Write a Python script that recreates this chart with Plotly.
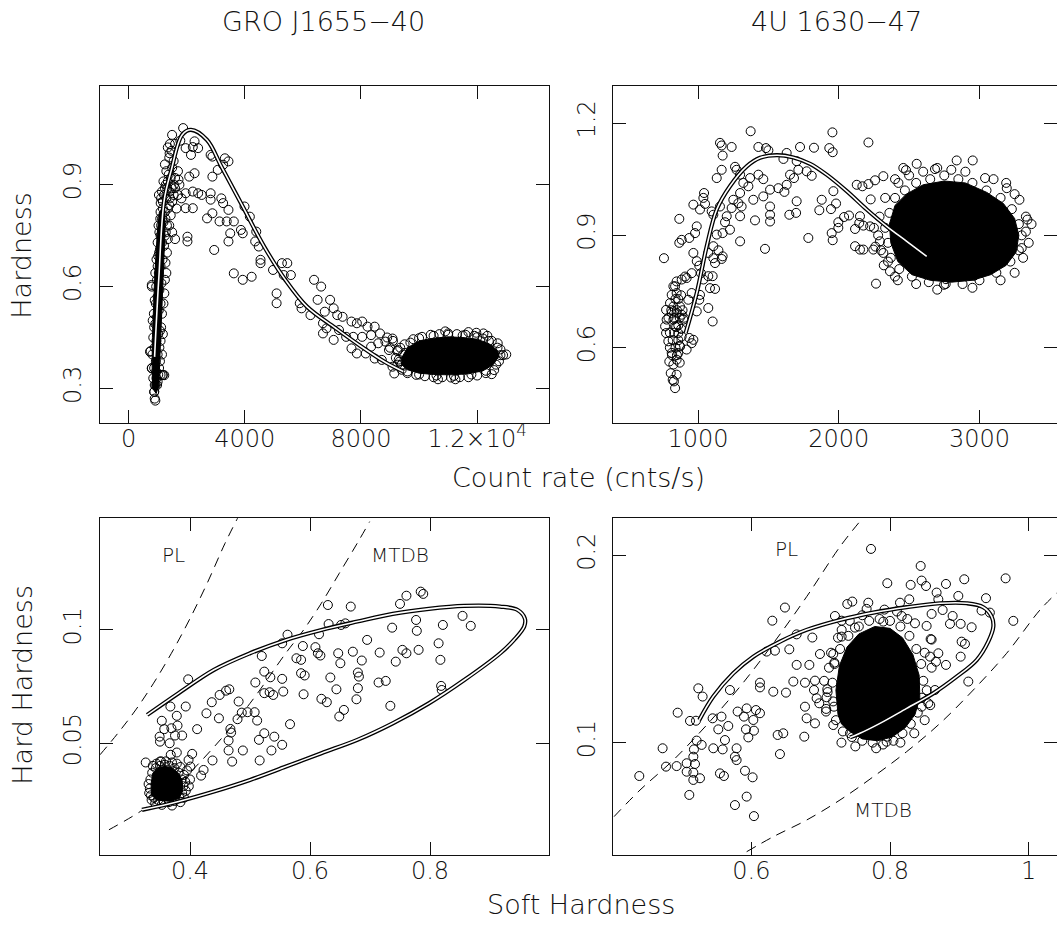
import plotly.graph_objects as go

W, H = 1057, 937
FONT = "DejaVu Sans"
INK = "#111111"

# ---------------- GRO J1655-40 : count rate vs hardness ----------------
gro_cr_points = [
    (900, 0.27), (880, 0.29), (930, 0.31), (1000, 0.32), (1100, 0.34), (1180, 0.34), (850, 0.33), (950, 0.35), (1050, 0.36),
    (800, 0.36), (760, 0.41), (820, 0.40), (850, 0.45), (1080, 0.38), (1150, 0.40), (1100, 0.44), (880, 0.48), (1120, 0.48),
    (830, 0.50), (1180, 0.46), (870, 0.52), (1150, 0.52), (900, 0.56), (1200, 0.55), (800, 0.60), (1230, 0.58), (950, 0.60),
    (1250, 0.62), (920, 0.64), (1300, 0.64), (1000, 0.66), (1270, 0.67), (960, 0.68), (1050, 0.70), (1320, 0.70), (1000, 0.73),
    (1350, 0.74), (1100, 0.75), (1280, 0.76), (1030, 0.78), (1400, 0.78), (1500, 0.76), (1150, 0.80), (1600, 0.74),
    (1100, 0.82), (1250, 0.82), (1350, 0.83), (1450, 0.81), (1180, 0.85), (1300, 0.86), (1500, 0.85), (1150, 0.88),
    (1250, 0.89), (1400, 0.88), (1550, 0.87), (1200, 0.91), (1350, 0.91), (1450, 0.92), (1600, 0.89), (1700, 0.87),
    (1300, 0.94), (1500, 0.95), (1250, 0.96), (1400, 0.98), (1480, 1.00), (1600, 0.92), (1750, 0.90), (1650, 0.83), (1820, 0.86),
    (900, 0.31), (960, 0.33), (1020, 0.34), (880, 0.36), (940, 0.38), (1000, 0.40), (1060, 0.42), (900, 0.42), (960, 0.44),
    (1020, 0.46), (1080, 0.47), (920, 0.49), (980, 0.51), (1040, 0.53), (1100, 0.55), (940, 0.55), (1000, 0.57), (1060, 0.59),
    (1130, 0.61), (980, 0.62), (1040, 0.64), (1100, 0.66), (1170, 0.68), (1020, 0.69), (1080, 0.71), (1150, 0.73),
    (1220, 0.72), (1060, 0.76), (1120, 0.78), (1200, 0.79), (1250, 0.75), (1090, 0.80), (1180, 0.83), (1270, 0.80),
    (1320, 0.78), (1400, 0.84), (1220, 0.87), (1330, 0.89), (1420, 0.86), (1480, 0.89), (1560, 0.90), (1280, 0.90),
    (1380, 0.93), (1120, 0.86), (1700, 0.94), (1550, 0.97), (1350, 1.01), (1420, 1.02), (1600, 1.02), (1780, 1.03),
    (737, 0.408), (798, 0.359), (921, 0.264), (884, 0.290), (982, 0.310), (798, 0.605), (1166, 0.339), (1228, 0.339),
    (1044, 0.870), (1105, 0.846),
    (1878, 1.067), (1498, 1.047), (1964, 1.008), (2210, 1.011), (2394, 1.008), (2271, 1.028), (2148, 0.988), (1412, 0.993),
    (2824, 0.988), (2885, 0.983), (3315, 0.978), (3438, 0.969), (3254, 0.959), (3070, 0.944), (2885, 0.924), (2271, 0.934),
    (2087, 0.924), (1719, 0.915), (2210, 0.880), (2394, 0.875), (1964, 0.875), (2517, 0.870), (2824, 0.875), (2824, 0.856),
    (3192, 0.860), (3254, 0.846), (3438, 0.826), (3990, 0.836), (4174, 0.806), (2210, 0.831), (1964, 0.831), (2885, 0.816),
    (2701, 0.801), (3131, 0.792), (3377, 0.792), (3622, 0.792), (3868, 0.767), (3929, 0.757), (3499, 0.757), (3438, 0.733),
    (4395, 0.762), (4358, 0.733), (4481, 0.718), (2026, 0.747), (2026, 0.733), (2947, 0.708), (4542, 0.679), (4542, 0.669),
    (5279, 0.669), (5463, 0.669), (5586, 0.634), (4972, 0.649), (5340, 0.634), (3622, 0.639), (3929, 0.620), (4236, 0.629),
    (5095, 0.580), (5095, 0.551), (5893, 0.551), (5954, 0.536), (6261, 0.516), (6384, 0.620), (6629, 0.600), (6507, 0.561),
    (6936, 0.561), (6752, 0.526), (7059, 0.536), (7182, 0.516), (7366, 0.511), (6691, 0.492), (6813, 0.477), (7243, 0.472),
    (7673, 0.497), (7857, 0.492), (8041, 0.497), (8225, 0.482), (8471, 0.482), (6691, 0.462), (7059, 0.443), (7489, 0.452),
    (7734, 0.452), (8041, 0.452), (8348, 0.457), (8655, 0.462), (7673, 0.418), (7857, 0.403), (8164, 0.403), (8348, 0.423),
    (8594, 0.433), (8839, 0.438), (9085, 0.447), (8962, 0.413), (8471, 0.388), (8716, 0.384), (9085, 0.364), (9146, 0.344),
    (9330, 0.379), (9269, 0.413),
    (9500, 0.43), (9800, 0.445), (10100, 0.452), (10400, 0.458), (10700, 0.46), (11000, 0.462), (11300, 0.46), (11600, 0.458),
    (11900, 0.455), (12200, 0.447), (12500, 0.44), (10900, 0.468), (11700, 0.466), (12350, 0.455), (12891, 0.398),
    (12584, 0.354), (12707, 0.433), (12215, 0.462), (11970, 0.464), (12800, 0.415), (12750, 0.38), (12300, 0.345),
    (12000, 0.338), (11700, 0.333), (11400, 0.333), (11100, 0.332), (10800, 0.333), (10500, 0.333), (10200, 0.336),
    (9900, 0.34), (9600, 0.345), (9400, 0.355), (9250, 0.37), (9200, 0.39), (9250, 0.41), (9350, 0.42), (9100, 0.44),
    (8900, 0.45), (9000, 0.42), (13000, 0.40), (12500, 0.342), (11250, 0.327), (10650, 0.327),
    (9450, 0.40), (9700, 0.435), (10000, 0.448), (10500, 0.455), (11000, 0.458), (11500, 0.456), (12000, 0.451),
    (12400, 0.44), (12700, 0.42), (12800, 0.398), (12650, 0.37), (12300, 0.352), (11800, 0.341), (11200, 0.337),
    (10600, 0.338), (10000, 0.341), (9600, 0.35), (9400, 0.37), (9300, 0.385),
]
gro_band_core = [(830, 0.30), (810, 0.37), (820, 0.45), (850, 0.53), (890, 0.61), (940, 0.69), (990, 0.76), (1060, 0.82),
                 (1230, 0.83), (1250, 0.76), (1220, 0.68), (1180, 0.60), (1140, 0.52), (1100, 0.44), (1070, 0.37),
                 (1040, 0.31), (950, 0.285)]
gro_blob_core = [(9400, 0.39), (9600, 0.42), (10000, 0.44), (10500, 0.448), (11000, 0.452), (11500, 0.45), (12000, 0.445),
                 (12400, 0.432), (12700, 0.412), (12750, 0.395), (12550, 0.37), (12200, 0.352), (11700, 0.343),
                 (11100, 0.34), (10500, 0.341), (10000, 0.345), (9600, 0.355), (9400, 0.37)]
gro_fit_rate = [895, 1043, 1227, 1473, 1842, 2148, 2701, 3192, 3929, 4666, 5402, 6139, 7121, 7982, 8840, 9454]
gro_fit_hard = [0.393, 0.629, 0.855, 0.944, 1.047, 1.062, 1.032, 0.954, 0.836, 0.718, 0.619, 0.541, 0.478, 0.425, 0.377, 0.350]

# ---------------- 4U 1630-47 : count rate vs hardness ----------------
u16_cr_points = [
    (1374, 1.178), (1156, 1.147), (1168, 1.140), (1239, 1.136), (1175, 1.113), (1168, 1.075), (1133, 1.053), (1263, 1.083),
    (1274, 1.075), (1429, 1.136), (1483, 1.133), (1500, 1.127), (1630, 1.120), (1607, 1.104), (1725, 1.136), (1824, 1.134),
    (1933, 1.133), (1955, 1.175), (1957, 1.122), (2211, 1.148), (1701, 1.098), (1713, 1.075), (1772, 1.071), (1808, 1.059),
    (1654, 1.062), (1682, 1.053), (1630, 1.035), (1571, 1.026), (1512, 1.022), (1464, 1.050), (1429, 1.062), (1370, 1.053),
    (1322, 1.040), (1299, 1.062), (1358, 1.031), (1393, 0.995), (1464, 1.004), (1512, 0.977), (1512, 0.955), (1512, 0.937),
    (1405, 0.940), (1299, 0.951), (1299, 0.884), (1476, 0.864), (1614, 1.016), (1701, 0.991), (1649, 0.955), (1697, 0.960),
    (1784, 0.893), (1879, 0.995), (1862, 0.967), (1945, 0.970), (1962, 1.018), (1981, 0.985), (1950, 0.906), (1957, 0.887),
    (1997, 0.935), (1997, 0.920), (2038, 0.949), (2073, 0.953), (2128, 1.035), (2168, 1.031), (2211, 1.037), (2258, 1.047),
    (2317, 1.058), (2227, 0.996), (2151, 0.951), (2146, 0.933), (2116, 0.917), (2175, 0.926), (2223, 0.924), (2116, 0.871),
    (2151, 0.862), (2175, 0.862), (2246, 0.862), (2265, 0.771), (2293, 0.884), (2317, 0.853), (2364, 0.804), (2459, 1.080),
    (2478, 1.074), (2554, 1.091), (2684, 1.077), (2838, 1.100), (2952, 1.100), (2748, 0.768), (2762, 0.783), (2962, 0.792),
    (3075, 0.817), (3300, 0.866), (3341, 0.942), (3284, 0.995), (3194, 1.026), (3040, 1.053), (2424, 1.040),
    (967, 0.982), (1043, 1.013), (1038, 1.000), (1050, 0.984), (1014, 0.969), (991, 0.924), (979, 0.906), (938, 0.893),
    (867, 0.944), (867, 0.880), (884, 0.888), (967, 0.853), (991, 0.831), (955, 0.799), (919, 0.786), (1009, 0.819),
    (1021, 0.799), (1038, 0.782), (1073, 0.791), (1085, 0.759), (1121, 0.757), (1104, 0.791), (1121, 0.826), (1109, 0.839),
    (1109, 0.871), (1073, 0.853), (1168, 0.837), (1175, 0.844), (1145, 0.860), (1133, 0.902), (1109, 0.955), (1097, 0.964),
    (1156, 0.977), (1204, 0.951), (1227, 0.915), (1192, 0.935), (1175, 0.906), (1251, 0.995), (1239, 0.973), (1299, 1.013),
    (1287, 0.986), (1310, 0.977), (1073, 0.706), (1104, 0.670), (1009, 0.728), (991, 0.697), (1014, 0.741), (955, 0.746),
    (931, 0.728), (967, 0.621), (955, 0.612), (938, 0.626), (919, 0.595), (896, 0.675), (884, 0.688), (872, 0.710),
    (848, 0.746), (801, 0.719), (773, 0.701), (766, 0.657), (773, 0.639), (789, 0.617), (813, 0.586), (796, 0.563),
    (825, 0.555), (848, 0.568), (860, 0.586), (872, 0.603), (884, 0.630), (837, 0.657), (825, 0.675), (813, 0.693),
    (848, 0.693), (860, 0.639), (825, 0.764), (837, 0.764), (848, 0.777), (884, 0.782), (908, 0.790), (813, 0.741),
    (777, 0.675), (806, 0.532), (837, 0.492), (829, 0.510), (848, 0.528), (820, 0.514), (758, 0.839),
    (800, 0.60), (820, 0.62), (840, 0.60), (860, 0.62), (880, 0.65), (830, 0.68), (850, 0.70), (870, 0.68), (890, 0.70),
    (810, 0.70), (790, 0.68), (860, 0.73), (840, 0.73), (815, 0.58), (850, 0.58), (870, 0.56), (830, 0.64), (800, 0.64),
    (900, 0.68), (880, 0.74), (860, 0.66), (845, 0.655), (825, 0.71), (870, 0.605),
    (2350, 0.88), (2330, 0.92), (2360, 0.96), (2400, 1.00), (2470, 1.02), (2550, 1.04), (2650, 1.05), (2750, 1.06),
    (2850, 1.05), (2950, 1.04), (3050, 1.02), (3150, 1.00), (3230, 0.97), (3280, 0.93), (3300, 0.90), (3280, 0.86),
    (3220, 0.83), (3120, 0.80), (3000, 0.78), (2880, 0.77), (2760, 0.77), (2640, 0.775), (2520, 0.79), (2430, 0.81),
    (2370, 0.84), (2300, 0.86), (2320, 0.82), (2420, 0.78), (3330, 0.95), (3350, 0.88), (3190, 1.04), (2500, 1.06),
    (2700, 1.08), (2900, 1.07),
    (2280, 0.90), (2290, 0.95), (2330, 1.00), (2260, 0.87), (2250, 0.92), (2400, 1.05), (2600, 1.07), (2800, 1.075),
    (3100, 1.05), (3250, 1.01), (3330, 0.91), (3370, 0.93), (3310, 0.84), (3250, 0.80), (3150, 0.78), (2950, 0.76),
    (2700, 0.755), (2550, 0.77), (2400, 0.79), (2350, 0.83),
]
u16_blob_core = [(2370, 0.88), (2360, 0.93), (2400, 0.98), (2480, 1.01), (2600, 1.035), (2750, 1.045), (2900, 1.04),
                 (3050, 1.015), (3170, 0.985), (3250, 0.945), (3280, 0.90), (3260, 0.855), (3190, 0.82), (3080, 0.795),
                 (2950, 0.78), (2800, 0.775), (2650, 0.78), (2520, 0.795), (2420, 0.83)]
u16_fit_rate = [912, 991, 1062, 1133, 1227, 1346, 1441, 1559, 1678, 1796, 1914, 2057, 2199, 2341, 2483, 2625]
u16_fit_hard = [0.639, 0.746, 0.871, 0.969, 1.031, 1.084, 1.107, 1.114, 1.108, 1.091, 1.062, 1.018, 0.969, 0.924, 0.884, 0.844]

# ---------------- GRO J1655-40 : soft vs hard hardness ----------------
gro_hh_points = [
    (0.3262, 0.0415), (0.35, 0.0419), (0.3673, 0.0662), (0.3929, 0.0662), (0.397, 0.0782), (0.353, 0.0599), (0.3571, 0.0562),
    (0.369, 0.0566), (0.3792, 0.0578), (0.378, 0.0621), (0.3494, 0.0529), (0.35, 0.0507), (0.375, 0.0534), (0.3869, 0.0534),
    (0.3661, 0.0500), (0.378, 0.0459), (0.3679, 0.0449), (0.4036, 0.0453), (0.3976, 0.0426), (0.4006, 0.0397),
    (0.4119, 0.0562), (0.4274, 0.0632), (0.4363, 0.0681), (0.4482, 0.061), (0.4494, 0.0713), (0.4601, 0.0732),
    (0.4655, 0.0738), (0.481, 0.0684), (0.4792, 0.0606), (0.4863, 0.0635), (0.4958, 0.0637), (0.5077, 0.0637),
    (0.5119, 0.06), (0.4673, 0.0563), (0.4685, 0.0547), (0.4643, 0.0512), (0.4643, 0.0468), (0.4702, 0.0419),
    (0.4881, 0.0468), (0.4375, 0.0424), (0.4226, 0.0382), (0.4185, 0.0357), (0.5149, 0.0515), (0.5161, 0.0424),
    (0.5238, 0.0544), (0.5405, 0.0529), (0.5357, 0.0468), (0.5536, 0.0493), (0.5667, 0.0584), (0.5089, 0.0768),
    (0.5238, 0.0816), (0.5339, 0.0791), (0.5238, 0.0721), (0.5327, 0.0725), (0.5387, 0.0713), (0.5536, 0.0784),
    (0.5554, 0.0728), (0.5196, 0.0885), (0.5536, 0.0941), (0.5625, 0.0979), (0.5774, 0.0875), (0.5851, 0.0868),
    (0.5851, 0.0809), (0.5911, 0.0799), (0.5893, 0.0716), (0.5881, 0.0929), (0.609, 0.0924), (0.6131, 0.0897),
    (0.6173, 0.0887), (0.615, 0.0981), (0.6298, 0.111), (0.631, 0.1026), (0.6518, 0.1022), (0.6589, 0.1029),
    (0.6679, 0.1103), (0.647, 0.0897), (0.6506, 0.0853), (0.6339, 0.079), (0.644, 0.0738), (0.619, 0.0696),
    (0.628, 0.0681), (0.6488, 0.0618), (0.6565, 0.0647), (0.6714, 0.0904), (0.6798, 0.0812), (0.6815, 0.0794),
    (0.6863, 0.0865), (0.6798, 0.0743), (0.6774, 0.0694), (0.6952, 0.0956), (0.7161, 0.09), (0.7143, 0.0768),
    (0.7262, 0.0775), (0.7339, 0.0665), (0.7369, 0.101), (0.7429, 0.086), (0.754, 0.0912), (0.7607, 0.0897),
    (0.75, 0.1115), (0.7607, 0.1151), (0.7845, 0.1169), (0.7887, 0.1159), (0.7768, 0.1044), (0.778, 0.0996),
    (0.781, 0.0912), (0.8185, 0.0753), (0.8195, 0.0735), (0.8143, 0.0941), (0.8173, 0.0868), (0.8214, 0.1022),
    (0.8542, 0.1062), (0.8679, 0.1018),
    (0.333, 0.030), (0.334, 0.034), (0.337, 0.037), (0.343, 0.039), (0.35, 0.040), (0.358, 0.0405), (0.366, 0.040),
    (0.374, 0.039), (0.381, 0.037), (0.386, 0.034), (0.389, 0.031), (0.387, 0.028), (0.382, 0.026), (0.374, 0.0245),
    (0.365, 0.024), (0.356, 0.0243), (0.347, 0.025), (0.34, 0.026), (0.335, 0.027), (0.39, 0.036), (0.36, 0.042),
    (0.344, 0.041), (0.378, 0.041),
    (0.331, 0.032), (0.332, 0.028), (0.336, 0.025), (0.392, 0.033), (0.393, 0.029), (0.39, 0.026), (0.384, 0.024),
    (0.37, 0.0225), (0.353, 0.0228), (0.342, 0.0235), (0.338, 0.04), (0.352, 0.042), (0.37, 0.0415), (0.384, 0.0395),
    (0.395, 0.038), (0.4, 0.034), (0.398, 0.031),
]
gro_hh_core = [(0.336, 0.027), (0.335, 0.032), (0.338, 0.0368), (0.347, 0.0392), (0.358, 0.0398), (0.37, 0.0392),
               (0.38, 0.037), (0.387, 0.0335), (0.388, 0.029), (0.382, 0.0258), (0.37, 0.0245), (0.356, 0.0245),
               (0.344, 0.0252)]
gro_ell_soft = [0.3286, 0.381, 0.440, 0.500, 0.560, 0.619, 0.679, 0.738, 0.798, 0.857, 0.917, 0.946, 0.958, 0.957, 0.940,
                0.917, 0.857, 0.798, 0.738, 0.679, 0.619, 0.560, 0.500, 0.440, 0.381, 0.320]
gro_ell_hard = [0.0625, 0.0721, 0.0824, 0.0897, 0.0956, 0.1000, 0.1037, 0.1071, 0.1093, 0.1106, 0.1103, 0.1088, 0.1051,
                0.1015, 0.0956, 0.0897, 0.0779, 0.0676, 0.0588, 0.0515, 0.0456, 0.0397, 0.0338, 0.0287, 0.0243, 0.0206]
gro_pl_soft = [0.25, 0.2798, 0.3095, 0.3393, 0.369, 0.3988, 0.4286, 0.4583, 0.4792]
gro_pl_hard = [0.0449, 0.0544, 0.0647, 0.0765, 0.0897, 0.1044, 0.1206, 0.1382, 0.1493]
gro_mtdb_soft = [0.2649, 0.3214, 0.381, 0.4405, 0.5, 0.5595, 0.5893, 0.619, 0.6488, 0.6786, 0.6994]
gro_mtdb_hard = [0.0118, 0.0206, 0.0324, 0.0485, 0.0676, 0.0897, 0.1000, 0.1118, 0.1250, 0.1382, 0.1478]

# ---------------- 4U 1630-47 : soft vs hard hardness ----------------
u16_hh_points = [
    (0.7726, 0.2034), (0.8442, 0.1943), (0.7961, 0.1851), (0.8298, 0.1842), (0.8456, 0.1865), (0.8519, 0.1836),
    (0.8807, 0.1847), (0.9071, 0.1872), (0.9667, 0.1877), (0.8672, 0.1801), (0.8697, 0.1765), (0.8985, 0.1783),
    (0.9384, 0.1771), (0.8278, 0.1765), (0.8144, 0.1747), (0.932, 0.1705), (0.944, 0.1694), (0.86, 0.1687),
    (0.8759, 0.1708), (0.8903, 0.1676), (0.8865, 0.1634), (0.9019, 0.1634), (0.9177, 0.1616), (0.9778, 0.165),
    (0.8528, 0.1623), (0.836, 0.1637), (0.8168, 0.1676), (0.7903, 0.1646), (0.7663, 0.1714), (0.7687, 0.1747),
    (0.7384, 0.174), (0.7456, 0.1753), (0.7206, 0.1676), (0.7303, 0.1651), (0.7303, 0.1602), (0.7303, 0.1566),
    (0.7495, 0.1614), (0.6485, 0.1721), (0.6303, 0.1651), (0.6654, 0.1578), (0.688, 0.1561), (0.6548, 0.1498),
    (0.6221, 0.1486), (0.6341, 0.1491), (0.699, 0.1473), (0.6654, 0.1415), (0.6837, 0.1415), (0.7182, 0.1473),
    (0.7197, 0.1427), (0.9033, 0.1539), (0.9081, 0.1527), (0.9019, 0.1459), (0.8807, 0.1415), (0.8697, 0.1477),
    (0.8586, 0.1553), (0.8577, 0.1459), (0.8663, 0.1432), (0.9129, 0.1326), (0.8648, 0.1281), (0.8552, 0.121),
    (0.8456, 0.1192), (0.8192, 0.1157), (0.7961, 0.1032), (0.7951, 0.1005), (0.7702, 0.1041), (0.7423, 0.105),
    (0.7182, 0.1094), (0.7192, 0.1192), (0.7077, 0.1166), (0.698, 0.121), (0.6904, 0.1281), (0.6942, 0.1237),
    (0.6918, 0.1331), (0.6774, 0.1192), (0.6798, 0.113), (0.6764, 0.1032), (0.6918, 0.1103), (0.7086, 0.1242),
    (0.7096, 0.1285), (0.6774, 0.132), (0.6606, 0.1326), (0.65, 0.1267), (0.6317, 0.1272), (0.6125, 0.132),
    (0.6125, 0.1295), (0.5692, 0.1281), (0.5236, 0.129), (0.5298, 0.1246), (0.4938, 0.116), (0.5116, 0.1116),
    (0.5202, 0.1117), (0.5442, 0.113), (0.557, 0.1139), (0.5524, 0.1071), (0.5668, 0.1089), (0.5803, 0.1166),
    (0.5933, 0.1183), (0.6067, 0.1174), (0.5894, 0.1139), (0.6029, 0.1121), (0.6125, 0.1157), (0.5923, 0.1071),
    (0.6038, 0.1064), (0.5957, 0.1028), (0.638, 0.1041), (0.6461, 0.105), (0.6413, 0.0939), (0.562, 0.1014),
    (0.5452, 0.097), (0.5587, 0.0964), (0.5788, 0.097), (0.5764, 0.0925), (0.5788, 0.0907), (0.5284, 0.0988),
    (0.5212, 0.1011), (0.5173, 0.0964), (0.5164, 0.0925), (0.5068, 0.089), (0.5188, 0.0886), (0.5068, 0.0845),
    (0.5164, 0.084), (0.526, 0.081), (0.5164, 0.0801), (0.4923, 0.0875), (0.477, 0.0872), (0.4721, 0.097),
    (0.4385, 0.0822), (0.5106, 0.0721), (0.5548, 0.0836), (0.5605, 0.0822), (0.5909, 0.085), (0.6019, 0.0815),
    (0.5764, 0.0667), (0.5933, 0.0712), (0.6038, 0.0608),
    (0.722, 0.112), (0.718, 0.122), (0.717, 0.132), (0.72, 0.142), (0.728, 0.15), (0.74, 0.157), (0.755, 0.162),
    (0.77, 0.165), (0.785, 0.166), (0.8, 0.165), (0.815, 0.162), (0.828, 0.157), (0.838, 0.15), (0.845, 0.142),
    (0.848, 0.133), (0.846, 0.124), (0.84, 0.116), (0.83, 0.11), (0.818, 0.105), (0.805, 0.101), (0.79, 0.099),
    (0.775, 0.1), (0.76, 0.101), (0.745, 0.103), (0.732, 0.106), (0.71, 0.127), (0.712, 0.14), (0.853, 0.128),
    (0.85, 0.148), (0.76, 0.168), (0.792, 0.171), (0.825, 0.166),
    (0.705, 0.133), (0.708, 0.118), (0.715, 0.148), (0.725, 0.156), (0.86, 0.14), (0.858, 0.12), (0.85, 0.112),
    (0.835, 0.105), (0.815, 0.1), (0.78, 0.097), (0.75, 0.098), (0.73, 0.1), (0.86, 0.155), (0.742, 0.165), (0.81, 0.17),
]
u16_hh_core = [(0.725, 0.115), (0.722, 0.128), (0.727, 0.141), (0.738, 0.151), (0.755, 0.158), (0.778, 0.162),
               (0.8, 0.161), (0.818, 0.156), (0.833, 0.147), (0.842, 0.136), (0.843, 0.124), (0.836, 0.115),
               (0.822, 0.108), (0.803, 0.103), (0.782, 0.101), (0.76, 0.102), (0.742, 0.106), (0.73, 0.11)]
u16_ell_soft = [0.525, 0.5452, 0.574, 0.6029, 0.6413, 0.6798, 0.7279, 0.7759, 0.824, 0.8721, 0.9105, 0.9345, 0.9466,
                0.949, 0.9417, 0.925, 0.8961, 0.8624, 0.824, 0.7855, 0.7567, 0.7423]
u16_ell_hard = [0.1121, 0.1246, 0.137, 0.1459, 0.1539, 0.1602, 0.1655, 0.1694, 0.1723, 0.1744, 0.1744, 0.1723, 0.1673,
                0.1619, 0.1539, 0.1441, 0.1352, 0.1263, 0.1183, 0.1103, 0.105, 0.1028]
u16_pl_soft = [0.402, 0.4395, 0.4875, 0.5356, 0.5837, 0.6317, 0.6798, 0.7279, 0.7591]
u16_pl_hard = [0.0605, 0.0747, 0.0907, 0.1094, 0.1299, 0.153, 0.1779, 0.2046, 0.2192]
u16_mtdb_soft = [0.5933, 0.6317, 0.6798, 0.7279, 0.7759, 0.824, 0.8721, 0.9201, 0.9682, 1.0162, 1.0408]
u16_mtdb_hard = [0.0418, 0.0498, 0.0587, 0.0694, 0.0818, 0.0952, 0.1103, 0.1281, 0.1477, 0.1708, 0.1800]

# ---------------- build figure ----------------
fig = go.Figure()


def core(pts, ax):
    xs = [p[0] for p in pts] + [pts[0][0]]
    ys = [p[1] for p in pts] + [pts[0][1]]
    fig.add_trace(go.Scatter(x=xs, y=ys, mode="lines", fill="toself", fillcolor="black",
                             line=dict(color="black", width=1), xaxis="x" + ax, yaxis="y" + ax,
                             hoverinfo="skip", showlegend=False))


def points(pts, ax):
    fig.add_trace(go.Scatter(x=[p[0] for p in pts], y=[p[1] for p in pts], mode="markers",
                             marker=dict(symbol="circle-open", size=9, color="black", line=dict(width=1)),
                             xaxis="x" + ax, yaxis="y" + ax, showlegend=False))


def fit(xs, ys, ax):
    for col, wd in (("black", 4.2), ("white", 1.6)):
        fig.add_trace(go.Scatter(x=xs, y=ys, mode="lines", line=dict(color=col, width=wd, shape="spline"),
                                 xaxis="x" + ax, yaxis="y" + ax, hoverinfo="skip", showlegend=False))


def dashed(xs, ys, ax):
    fig.add_trace(go.Scatter(x=xs, y=ys, mode="lines",
                             line=dict(color="black", width=1, dash="10px,7px", shape="spline"),
                             xaxis="x" + ax, yaxis="y" + ax, hoverinfo="skip", showlegend=False))


core(gro_band_core, "")
core(gro_blob_core, "")
points(gro_cr_points, "")
fit(gro_fit_rate, gro_fit_hard, "")

core(u16_blob_core, "2")
points(u16_cr_points, "2")
fit(u16_fit_rate, u16_fit_hard, "2")

dashed(gro_pl_soft, gro_pl_hard, "3")
dashed(gro_mtdb_soft, gro_mtdb_hard, "3")
core(gro_hh_core, "3")
points(gro_hh_points, "3")
fit(gro_ell_soft, gro_ell_hard, "3")

dashed(u16_pl_soft, u16_pl_hard, "4")
dashed(u16_mtdb_soft, u16_mtdb_hard, "4")
core(u16_hh_core, "4")
points(u16_hh_points, "4")
fit(u16_ell_soft, u16_ell_hard, "4")

xL = [100 / W, 549.3 / W]
xR = [613.3 / W, 1.0]
yT = [1 - 422.7 / H, 1 - 86 / H]
yB = [1 - 854.7 / H, 1 - 518 / H]

tickfont = dict(family=FONT, size=24, color=INK, weight=200)


def ax(domain, rng, vals, texts, anchor, vertical=False):
    d = dict(domain=domain, range=rng, anchor=anchor, showline=True, linecolor=INK, linewidth=1,
             mirror="ticks", ticks="inside", ticklen=13, tickwidth=1, tickcolor=INK,
             showgrid=False, zeroline=False, tickmode="array", tickvals=vals, ticktext=texts,
             tickfont=tickfont, ticklabelstandoff=-6)
    if vertical:
        d["tickangle"] = -90
        d["ticklabelstandoff"] = 8
    return d


fig.update_layout(
    width=W, height=H, margin=dict(l=0, r=0, t=0, b=0),
    paper_bgcolor="white", plot_bgcolor="white", showlegend=False,
    xaxis=ax(xL, [-984, 14482], [0, 4000, 8000, 12000], ["0", "4000", "8000", "1.2×10<sup>4</sup>"], "y"),
    yaxis=ax(yT, [0.199, 1.191], [0.3, 0.6, 0.9], ["0.3", "0.6", "0.9"], "x", True),
    xaxis2=ax(xR, [398, 3551], [1000, 2000, 3000], ["1000", "2000", "3000"], "y2"),
    yaxis2=ax(yT, [0.3997, 1.2988], [0.6, 0.9, 1.2], ["0.6", "0.9", "1.2"], "x2", True),
    xaxis3=ax(xL, [0.25, 0.9988], [0.4, 0.6, 0.8], ["0.4", "0.6", "0.8"], "y3"),
    yaxis3=ax(yB, [0.0008, 0.1494], [0.05, 0.1], ["0.05", "0.1"], "x3", True),
    xaxis4=ax(xR, [0.401, 1.0408], [0.6, 0.8, 1.0], ["0.6", "0.8", "1"], "y4"),
    yaxis4=ax(yB, [0.0402, 0.2199], [0.1, 0.2], ["0.1", "0.2"], "x4", True),
)

lab = dict(family=FONT, size=27, color=INK, weight=200)
small = dict(family=FONT, size=20, color=INK, weight=200)


def paper_text(text, xp, yp, angle=0):
    return dict(text=text, x=xp / W, y=1 - yp / H, xref="paper", yref="paper", xanchor="center", yanchor="middle",
                showarrow=False, font=lab, textangle=angle)


ann = [
    paper_text("GRO J1655−40", 323, 21),
    paper_text("4U 1630−47", 836, 21),
    paper_text("Count rate (cnts/s)", 578, 477),
    paper_text("Soft Hardness", 581, 904),
    paper_text("Hardness", 21.7, 256, -90),
    paper_text("Hard Hardness", 21.7, 685, -90),
    dict(text="PL", x=0.372, y=0.1331, xref="x3", yref="y3", showarrow=False, font=small),
    dict(text="MTDB", x=0.75, y=0.1331, xref="x3", yref="y3", showarrow=False, font=small),
    dict(text="PL", x=0.651, y=0.2032, xref="x4", yref="y4", showarrow=False, font=small),
    dict(text="MTDB", x=0.7903, y=0.064, xref="x4", yref="y4", showarrow=False, font=small),
]
fig.update_layout(annotations=ann)

fig.write_html("out.html", include_plotlyjs=True, config={"displayModeBar": False},
               post_script="document.body.style.margin='0';document.body.style.overflow='hidden';")
